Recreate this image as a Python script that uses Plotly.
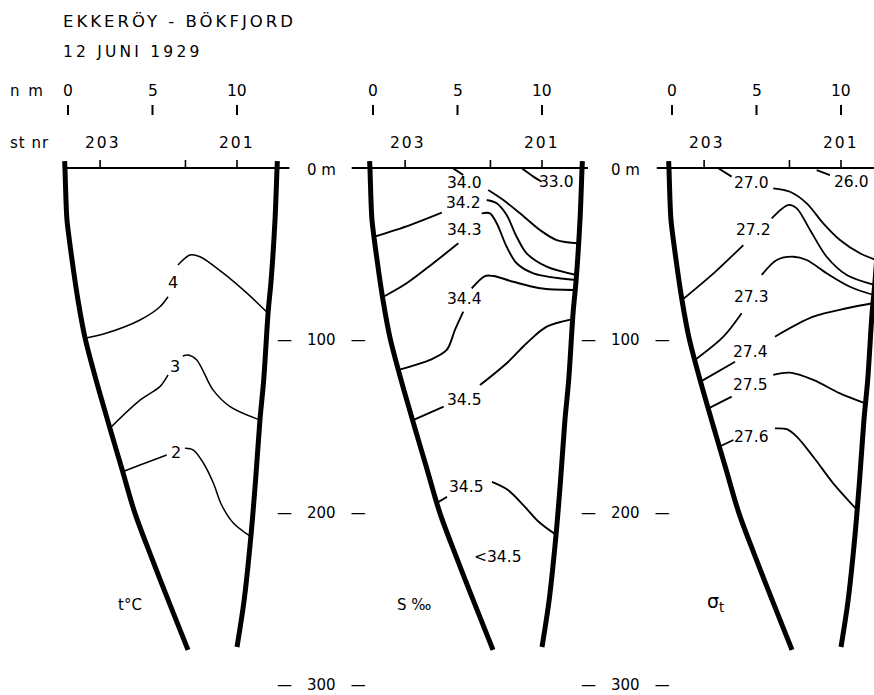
import plotly.graph_objects as go

# ---------------- data (distance in nautical miles, depth in m) ----------------
# bottom profile of the section (same for all three panels)
left_nm = [-0.2, -0.18, -0.12, -0.06, 0.24, 0.59, 1.01, 1.66, 2.45, 3.20, 3.95, 4.90, 6.04, 7.10]
left_depth = [-4, 0, 18.6, 30.2, 53.4, 76.6, 98.7, 123.0, 150.0, 175.0, 200.0, 225.0, 253.6, 279.7]
right_nm = [12.39, 12.37, 12.25, 12.02, 11.84, 11.58, 11.36, 11.10, 10.82, 10.42, 10.00]
right_depth = [-4, 0, 30, 65, 84, 123, 146, 181, 214, 251, 278]

nm_ticks = [0, 5, 10]
station_tick_nm = [1.9, 6.95, 10.0]
station_names = ["203", "201"]
station_label_nm = [2.1, 10.0]
depth_ticks = [100, 200, 300]

# temperature (t °C) isolines: list of drawn segments (nm list, depth list)
temp_4 = [([1.01, 2.29, 4.26, 5.44, 5.92], [98.8, 95.8, 88.2, 80.5, 74.7]),
          ([6.51, 7.22, 7.81, 9.17, 10.57, 11.84], [56.3, 50.5, 51.5, 60.9, 72.5, 84.3])]
temp_3 = [([2.49, 4.26, 5.44, 5.92], [150.9, 134.7, 126.9, 120.1]),
          ([6.79, 7.12, 7.62, 8.58, 9.59, 11.36], [109.1, 108.5, 111.4, 128.8, 138.5, 146.3])]
temp_2 = [([3.23, 4.26, 5.84], [176.3, 172.4, 166.6]),
          ([6.92, 7.42, 8.01, 8.60, 9.09, 9.78, 10.82], [162.7, 163.7, 171.2, 182.8, 195.6, 206.0, 214.0])]
temp_labels = ["4", "3", "2"]
temp_label_nm = [6.23, 6.33, 6.39]
temp_label_depth = [66.2, 115.3, 165.4]

# salinity (S ‰) isolines
sal_330 = [([8.80, 9.49, 9.98], [0.2, 5.0, 8.0])]
sal_340 = [([4.75, 5.34], [0.2, 4.1]),
           ([6.82, 7.71, 8.70, 9.88, 10.87, 12.16], [12.8, 18.6, 26.3, 36.0, 41.8, 43.7])]
sal_342 = [([0.07, 2.19, 4.07], [39.9, 33.1, 25.9]),
           ([6.73, 7.32, 7.91, 8.50, 9.09, 10.28, 12.03], [18.6, 20.5, 27.3, 39.9, 49.5, 57.3, 62.1])]
sal_343 = [([0.57, 1.99, 3.56, 5.05], [75.0, 66.9, 55.3, 43.7]),
           ([6.43, 6.92, 7.32, 7.91, 8.50, 9.49, 12.02], [26.3, 26.3, 32.1, 45.7, 55.3, 61.1, 65.0])]
sal_344 = [([1.50, 3.37, 4.36, 4.85, 5.34], [117.2, 111.4, 105.6, 94.0, 83.4]),
           ([5.84, 6.63, 7.12, 8.30, 9.88, 11.97], [69.8, 62.7, 62.7, 66.0, 69.8, 70.8])]
sal_345a = [([2.37, 4.18], [146.3, 138.5]),
            ([6.33, 7.91, 9.09, 10.28, 11.81], [126.0, 113.3, 101.7, 92.1, 87.8])]
sal_345b = [([3.77, 4.38], [194.4, 190.9]),
            ([7.04, 7.99, 8.99, 9.82, 10.83], [182.2, 186.9, 196.7, 205.5, 212.9])]
sal_labels = ["33.0", "34.0", "34.2", "34.3", "34.4", "34.5", "34.5", "&lt;34.5"]
sal_label_nm = [10.87, 5.44, 5.33, 5.44, 5.44, 5.44, 5.55, 7.4]
sal_label_depth = [8.0, 8.9, 20.3, 36.0, 76.2, 134.7, 185.1, 225.8]

# density (sigma-t) isolines
dens_260 = [([8.56, 9.35], [1.2, 4.1])]
dens_270 = [([2.74, 3.53], [0.2, 5.0]),
            ([5.99, 6.98, 7.97, 8.95, 9.94, 11.12, 12.09], [11.8, 13.8, 20.5, 32.1, 41.8, 49.5, 53.4])]
dens_272 = [([0.59, 2.54, 4.22], [76.6, 60.4, 44.7]),
            ([5.90, 6.88, 7.38, 8.17, 9.15, 10.34, 12.0], [29.2, 21.5, 23.4, 36.0, 51.5, 62.1, 67.9])]
dens_273 = [([1.36, 3.04, 4.12], [111.4, 97.9, 84.3]),
            ([5.31, 6.20, 7.18, 7.97, 9.15, 10.53, 11.93], [62.1, 53.4, 51.5, 53.4, 61.1, 68.9, 73.7])]
dens_274 = [([1.69, 3.73], [124.0, 112.4]),
            ([6.09, 8.36, 10.34, 11.89], [97.9, 86.3, 81.4, 78.5])]
dens_275 = [([2.16, 3.53], [139.5, 132.7]),
            ([5.99, 6.98, 8.36, 9.94, 11.44], [120.1, 118.8, 123.0, 130.8, 136.6])]
dens_276 = [([2.79, 3.63], [161.8, 157.9]),
            ([6.09, 6.79, 7.38, 8.36, 9.54, 10.96], [151.1, 151.6, 155.9, 167.6, 183.0, 198.5])]
dens_labels = ["26.0", "27.0", "27.2", "27.3", "27.4", "27.5", "27.6"]
dens_label_nm = [10.63, 4.72, 4.81, 4.72, 4.62, 4.62, 4.72]
dens_label_depth = [8.0, 8.9, 36.0, 74.7, 106.6, 126.0, 155.9]

panel_titles = ["t°C", "S ‰", "σ<sub>t</sub>"]

# ---------------- layout geometry ----------------
W, H = 874, 695
PX_PER_NM = 16.9
PX_PER_M = 1.723
SURFACE_PX = 168
panel_origin_px = [68, 373, 672]
surface_extent = [(-0.18, 13.1), (-1.26, 12.72), (-0.9, 12.6)]
FONT = "DejaVu Sans"
axes = ["x", "x2", "x3"]

fig = go.Figure()


def add_line(ax, xs, ds, width, shape="spline"):
    fig.add_trace(go.Scatter(
        x=xs, y=ds, xaxis=ax, yaxis="y", mode="lines",
        line=dict(color="black", width=width, shape=shape, smoothing=0.9),
        hoverinfo="skip", showlegend=False))


def label(xref, x, y, text, size=15, xanchor="center"):
    fig.add_annotation(x=x, y=y, xref=xref, yref="y", text=text, showarrow=False,
                       xanchor=xanchor, yanchor="middle",
                       font=dict(family=FONT, size=size, color="black"))


isolines = [
    [temp_4, temp_3, temp_2],
    [sal_330, sal_340, sal_342, sal_343, sal_344, sal_345a, sal_345b],
    [dens_260, dens_270, dens_272, dens_273, dens_274, dens_275, dens_276],
]
contour_width = [1.5, 1.9, 1.8]
labels = [
    (temp_labels, temp_label_nm, temp_label_depth, 16),
    (sal_labels, sal_label_nm, sal_label_depth, 15.5),
    (dens_labels, dens_label_nm, dens_label_depth, 15.5),
]

for i, ax in enumerate(axes):
    # isolines
    for iso in isolines[i]:
        for xs, ds in iso:
            add_line(ax, xs, ds, contour_width[i])
    # sea surface
    add_line(ax, list(surface_extent[i]), [0, 0], 2, shape="linear")
    # station ticks on the surface
    for s in station_tick_nm:
        add_line(ax, [s, s], [0, -4.6], 1.6, shape="linear")
    # distance ticks
    for t in nm_ticks:
        add_line(ax, [t, t], [-36.6, -30.8], 2, shape="linear")
        label(ax, t, -44.7, str(t), size=15.5)
    for name, s in zip(station_names, station_label_nm):
        label(ax, s, -14.5, f'<span style="letter-spacing:2px">{name}</span>', size=15.5)
    # bottom slopes
    add_line(ax, left_nm, left_depth, 5)
    add_line(ax, right_nm, right_depth, 5)
    # isoline labels
    txts, lx, ly, size = labels[i]
    for t, x, y in zip(txts, lx, ly):
        label(ax, x, y, t, size=size)

# panel variable names
label("x", 3.67, 253.6, panel_titles[0], size=15)
label("x2", 2.4, 253.6, panel_titles[1], size=15)
label("x3", 2.6, 252.0, panel_titles[2], size=19)

# depth scale between the panels
gap_centers_px = [321, 625]
for c in gap_centers_px:
    fig.add_annotation(x=c / W, y=1.2, xref="paper", yref="y", text="0 m", showarrow=False,
                       xanchor="center", yanchor="middle",
                       font=dict(family=FONT, size=15, color="black"))
    for d in depth_ticks:
        fig.add_annotation(x=c / W, y=d, xref="paper", yref="y",
                           text=f"—\u2003{d}\u2003—", showarrow=False,
                           xanchor="center", yanchor="middle",
                           font=dict(family=FONT, size=15, color="black"))

# header texts
fig.add_annotation(x=61 / W, y=-85.3, xref="paper", yref="y",
                   text='<span style="letter-spacing:3px">EKKERÖY - BÖKFJORD</span>',
                   showarrow=False, xanchor="left", yanchor="middle",
                   font=dict(family=FONT, size=16.5, color="black"))
fig.add_annotation(x=61 / W, y=-67.3, xref="paper", yref="y",
                   text='<span style="letter-spacing:3.2px">12 JUNI 1929</span>',
                   showarrow=False, xanchor="left", yanchor="middle",
                   font=dict(family=FONT, size=15.5, color="black"))
fig.add_annotation(x=8 / W, y=-44.7, xref="paper", yref="y",
                   text='<span style="letter-spacing:2px">n m</span>',
                   showarrow=False, xanchor="left", yanchor="middle",
                   font=dict(family=FONT, size=15, color="black"))
fig.add_annotation(x=8 / W, y=-14.5, xref="paper", yref="y",
                   text='<span style="letter-spacing:1px">st nr</span>',
                   showarrow=False, xanchor="left", yanchor="middle",
                   font=dict(family=FONT, size=15, color="black"))

# axes
layout_axes = {}
for i, ax in enumerate(axes):
    x0 = panel_origin_px[i]
    left_px = x0 - 2.5 * PX_PER_NM
    right_px = min(W, x0 + 13.5 * PX_PER_NM)
    key = "xaxis" if i == 0 else f"xaxis{i + 1}"
    layout_axes[key] = dict(domain=[left_px / W, right_px / W],
                            range=[(left_px - x0) / PX_PER_NM, (right_px - x0) / PX_PER_NM],
                            visible=False, anchor="y", fixedrange=True)

fig.update_layout(
    width=W, height=H,
    margin=dict(l=0, r=0, t=0, b=0),
    paper_bgcolor="white", plot_bgcolor="white",
    showlegend=False,
    yaxis=dict(domain=[0, 1], range=[(H - SURFACE_PX) / PX_PER_M, -SURFACE_PX / PX_PER_M],
               visible=False, fixedrange=True),
    **layout_axes,
)

fig.write_html("out.html",
               config={"displayModeBar": False, "staticPlot": True},
               post_script="document.body.style.margin='0';document.body.style.overflow='hidden';")
